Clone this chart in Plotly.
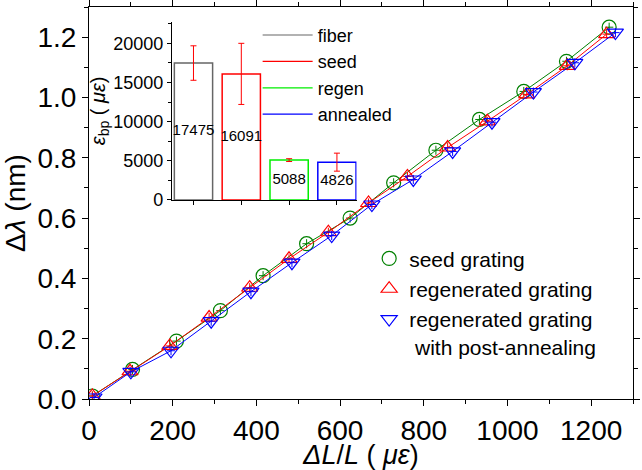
import plotly.graph_objects as go

# ---- main data ----
seed_x = [8, 104, 209, 314, 416, 520, 624, 728, 829, 933, 1039, 1141, 1243]
seed_y = [0.01, 0.098, 0.192, 0.293, 0.409, 0.515, 0.600, 0.717, 0.825, 0.927, 1.020, 1.120, 1.233]

regen_x = [8, 98, 193, 287, 384, 478, 572, 668, 761, 857, 952, 1046, 1143, 1237]
regen_y = [0.01, 0.092, 0.176, 0.270, 0.369, 0.465, 0.553, 0.650, 0.738, 0.834, 0.921, 1.010, 1.105, 1.210]

anneal_x = [12, 100, 196, 292, 387, 485, 580, 676, 775, 869, 963, 1062, 1161, 1258]
anneal_y = [0.005, 0.090, 0.160, 0.258, 0.356, 0.452, 0.542, 0.645, 0.728, 0.821, 0.918, 1.018, 1.115, 1.215]

err_x = 10
err_y = 0.015

# ---- inset data ----
bar_cats = ["fiber", "seed", "regen", "annealed"]
bar_vals = [17475, 16091, 5088, 4826]
bar_errs = [2200, 3900, 180, 1150]
bar_colors = ["#666666", "#ff0000", "#00ee00", "#0000ff"]

FONT = "Liberation Sans, Arial, sans-serif"

fig = go.Figure()

def add_series(x, y, color, symbol, name):
    fig.add_trace(go.Scatter(
        x=x, y=y, mode="lines", line=dict(color=color, width=1),
        showlegend=False, hoverinfo="skip",
    ))
    fig.add_trace(go.Scatter(
        x=x, y=y, mode="markers", name=name,
        marker=dict(symbol=symbol, size=14, color=color, line=dict(color=color, width=1.2)),
        error_x=dict(type="constant", value=err_x, color=color, thickness=1, width=0),
        error_y=dict(type="constant", value=err_y, color=color, thickness=1, width=0),
        legend="legend",
    ))

add_series(seed_x, seed_y, "#008000", "circle-open", "seed grating")
add_series(regen_x, regen_y, "#ff0000", "triangle-up-open", "regenerated grating")
add_series(anneal_x, anneal_y, "#0000ff", "triangle-down-open",
           "regenerated grating<br> with post-annealing")

# inset bars
fig.add_trace(go.Bar(
    x=bar_cats, y=bar_vals, xaxis="x2", yaxis="y2", width=0.8,
    marker=dict(color="rgba(255,255,255,0)", line=dict(color=bar_colors, width=1.5)),
    error_y=dict(type="data", array=bar_errs, color="#ff0000", thickness=1, width=3),
    showlegend=False,
))
fig.add_trace(go.Scatter(
    x=bar_cats, y=[v / 2 for v in bar_vals], xaxis="x2", yaxis="y2",
    mode="text", text=[str(v) for v in bar_vals],
    textfont=dict(size=15, color="black", family=FONT), showlegend=False,
))

# inset legend entries (lines)
for name, c in zip(bar_cats, bar_colors):
    fig.add_trace(go.Scatter(
        x=[None], y=[None], mode="lines", name=name,
        line=dict(color=c, width=1.2), legend="legend2",
    ))

axis_common = dict(showline=True, linecolor="black", linewidth=1, ticks="outside",
                   tickcolor="black", showgrid=False, zeroline=False)

fig.update_layout(
    width=642, height=470,
    margin=dict(l=89, r=2, t=7, b=71),
    paper_bgcolor="white", plot_bgcolor="white",
    font=dict(family=FONT, color="black"),
    xaxis=dict(range=[0, 1300], dtick=200, ticklen=6, mirror="ticks", automargin=False,
               tickfont=dict(size=28),
               minor=dict(dtick=100, ticks="outside", ticklen=4, tickcolor="black"),
               title=dict(text="<i>ΔL</i>/<i>L</i> ( <i>με</i>)", font=dict(size=27), standoff=5),
               **axis_common),
    yaxis=dict(range=[0, 1.3], dtick=0.2, ticklen=6, mirror="ticks",
               tickfont=dict(size=28), tickformat=".1f",
               minor=dict(dtick=0.1, ticks="outside", ticklen=4, tickcolor="black"),
               title=dict(text="Δ<i>λ</i> (nm)", font=dict(size=28), standoff=4),
               **axis_common),
    xaxis2=dict(domain=[0.1525, 0.4918], anchor="y2", range=[-0.45, 3.41],
                showticklabels=False, ticklen=4, **axis_common),
    yaxis2=dict(domain=[0.5077, 0.9625], anchor="x2", range=[0, 22750], dtick=5000,
                tickformat="d", ticklen=4, tickfont=dict(size=18),
                minor=dict(dtick=2500, ticks="outside", ticklen=3, tickcolor="black"),
                title=dict(text="<i>ε</i><sub>bp</sub> ( <i>με</i>)", font=dict(size=20), standoff=2),
                **axis_common),
    legend=dict(x=0.515, y=0.41, xanchor="left", yanchor="top", bgcolor="rgba(0,0,0,0)",
                font=dict(size=21), valign="top", tracegroupgap=0, itemwidth=30),
    legend2=dict(x=0.31, y=0.975, xanchor="left", yanchor="top", bgcolor="rgba(0,0,0,0)",
                 font=dict(size=18), tracegroupgap=0, itemwidth=50),
    showlegend=True,
)

fig.write_html("out.html")
